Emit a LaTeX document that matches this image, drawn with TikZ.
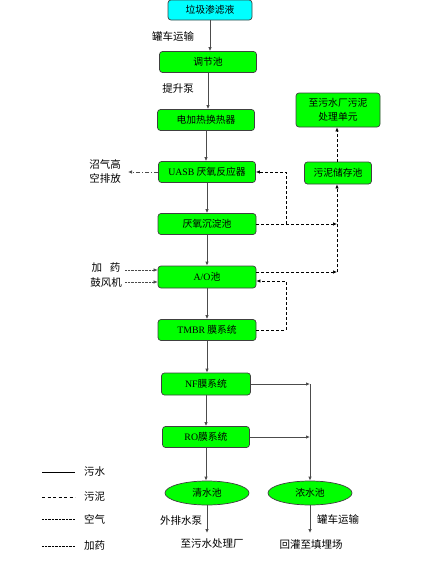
\documentclass[tikz,border=0pt]{standalone}
\usepackage{fontspec}
\setmainfont{Liberation Serif}
\newfontfamily\cjk{Noto Sans CJK SC}
\usepackage{tikz}
\usetikzlibrary{positioning,arrows.meta,shapes.geometric}
\definecolor{boxgreen}{HTML}{00FF00}
\definecolor{boxcyan}{HTML}{00FFFF}
\definecolor{edgegray}{HTML}{404040}
\tikzset{
  box/.style={draw=edgegray, fill=boxgreen, rounded corners=3pt, line width=0.7pt,
    minimum width=97pt, minimum height=21pt, inner sep=1pt, font=\cjk\fontsize{9.8pt}{11pt}\selectfont},
  pool/.style={ellipse, draw=edgegray, fill=boxgreen, line width=0.7pt,
    minimum width=84pt, minimum height=24pt, inner sep=0pt, font=\cjk\fontsize{9.8pt}{11pt}\selectfont},
  txt/.style={inner sep=0pt, font=\cjk\fontsize{10.5pt}{14pt}\selectfont},
  water/.style={draw=black!70, line width=0.8pt, -{Latex[length=4pt,width=3.5pt]}},
  mud/.style={draw=black, line width=0.7pt, dash pattern=on 3pt off 2pt, -{Latex[length=4pt,width=3.5pt]}},
  gas/.style={draw=black!70, line width=0.7pt, dash pattern=on 4pt off 2pt on 1pt off 2pt, -{Latex[length=4pt,width=3.5pt]}},
  air/.style={draw=black!70, line width=0.6pt, dash pattern=on 0.6pt off 0.8pt, -{Latex[length=4pt,width=3.5pt]}}
}
\begin{document}
\begin{tikzpicture}[x=1pt,y=-1pt]
\useasboundingbox (0,0) rectangle (421,562);
\node[box, fill=boxcyan, minimum width=84pt, minimum height=20pt] (src) at (210,10) {垃圾渗滤液};
\node[box] (tank) at (208,62) {调节池};
\node[box] (heat) at (206,120) {电加热换热器};
\node[box] (uasb) at (207,172) {{\rmfamily UASB} 厌氧反应器};
\node[box, minimum width=98pt] (settle) at (207,224) {厌氧沉淀池};
\node[box, minimum width=98pt, minimum height=22pt] (ao) at (207,277) {{\rmfamily A/O}池};
\node[box, minimum width=98pt] (tmbr) at (207,330) {{\rmfamily TMBR} 膜系统};
\node[box, minimum width=89pt, minimum height=22pt] (nf) at (206,384) {{\rmfamily NF}膜系统};
\node[box, minimum width=87pt] (ro) at (206,437) {{\rmfamily RO}膜系统};
\node[pool] (clear) at (207,493) {清水池};
\node[pool] (conc) at (310,493) {浓水池};
\node[box, minimum width=67pt, minimum height=22pt] (store) at (338,173) {污泥储存池};
\node[box, minimum width=84pt, minimum height=34pt, align=center, font=\cjk\fontsize{9.8pt}{14pt}\selectfont] (plant) at (338,110) {至污水厂污泥\\处理单元};

\coordinate (rv) at (286,0);
\coordinate (sv) at (337,0);
\coordinate (cv) at (310,0);
\coordinate (gasend) at (128,172);
\coordinate (drugend) at (125,270);
\coordinate (airend) at (125,282);
\coordinate (aotop) at (0,272);
\coordinate (aobot) at (0,281);
\coordinate (clearend) at (207,533);
\coordinate (concend) at (310,533);

\node[txt] (truck) at (173,37) {罐车运输};
\node[txt] (pump) at (178,89) {提升泵};
\node[txt, align=left] (biogas) at (105,172) {沼气高\\空排放};
\node[txt] (drug) at (106,268) {加\hspace{8pt}药};
\node[txt] (blower) at (106,283) {鼓风机};
\node[txt] (outpump) at (181,521) {外排水泵};
\node[txt] (toplant) at (212,544) {至污水处理厂};
\node[txt] (truck2) at (338,519) {罐车运输};
\node[txt] (landfill) at (311,544) {回灌至填埋场};

\draw[water] (src.south) -- (src.south |- tank.north);
\draw[water] (tank.south) -- (tank.south |- heat.north);
\draw[water] (heat.south) -- (heat.south |- uasb.north);
\draw[water] (uasb.south) -- (uasb.south |- settle.north);
\draw[water] (settle.south) -- (settle.south |- ao.north);
\draw[water] (ao.south) -- (ao.south |- tmbr.north);
\draw[water] (tmbr.south) -- (tmbr.south |- nf.north);
\draw[water] (nf.south) -- (nf.south |- ro.north);
\draw[water] (ro.south) -- (ro.south |- clear.north);
\draw[water] (nf.east) -- (nf.east -| cv);
\draw[water] (ro.east) -- (ro.east -| cv);
\draw[water] (nf.east -| cv) -- (conc.north);
\draw[water] (clear.south) -- (clearend);
\draw[water] (conc.south) -- (concend);

\draw[mud] (settle.east) -- (settle.east -| rv) |- (uasb.east);
\draw[mud] (settle.east -| rv) -- (settle.east -| sv);
\draw[mud] (ao.east |- aotop) -- (aotop -| sv);
\draw[mud] (aotop -| sv) -- (store.south -| sv);
\draw[mud] (tmbr.east) -| (rv |- aobot) -- (ao.east |- aobot);
\draw[mud] (store.north -| sv) -- (plant.south -| sv);

\draw[gas] (uasb.west) -- (gasend);
\draw[air] (drugend) -- (drugend -| ao.west);
\draw[air] (airend) -- (airend -| ao.west);

\node[txt, anchor=west] (lgw) at (84,472) {污水};
\node[txt, anchor=west] (lgm) at (84,497) {污泥};
\node[txt, anchor=west] (lga) at (84,519) {空气};
\node[txt, anchor=west] (lgd) at (84,546) {加药};
\coordinate (lw) at (42,0);
\coordinate (le) at (75,0);
\draw[black, line width=0.8pt] (lw |- lgw) -- (le |- lgw);
\draw[black, line width=0.7pt, dash pattern=on 3pt off 2.5pt] (lw |- lgm) -- (le |- lgm);
\draw[black, line width=0.6pt, dash pattern=on 0.6pt off 0.8pt] (lw |- lga) -- (le |- lga);
\draw[black, line width=0.6pt, dash pattern=on 0.6pt off 0.8pt] (lw |- lgd) -- (le |- lgd);
\end{tikzpicture}
\end{document}
